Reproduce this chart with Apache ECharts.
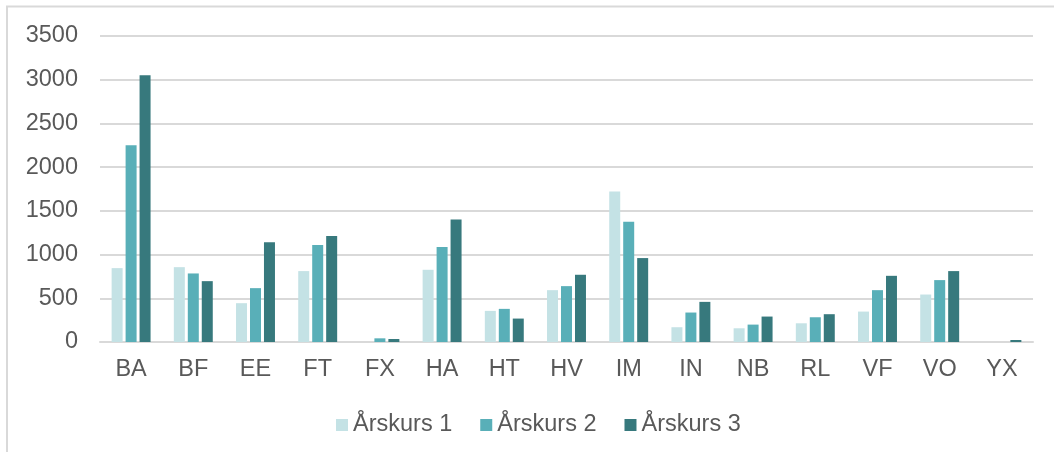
<!DOCTYPE html>
<html>
<head>
<meta charset="utf-8">
<script src="https://cdn.jsdelivr.net/npm/echarts@6/dist/echarts.min.js"></script>
<style>
html,body{margin:0;padding:0;background:#fff;}
#chart{width:1054px;height:452px;}
</style>
</head>
<body>
<div id="chart"></div>
<script>
const categories = ['BA','BF','EE','FT','FX','HA','HT','HV','IM','IN','NB','RL','VF','VO','YX'];
const arskurs1 = [845, 856, 444, 811, 0, 826, 356, 593, 1720, 169, 157, 214, 348, 543, 0];
const arskurs2 = [2250, 784, 616, 1109, 42, 1086, 379, 639, 1376, 337, 199, 283, 593, 708, 0];
const arskurs3 = [3050, 696, 1140, 1212, 34, 1400, 268, 769, 960, 459, 291, 318, 757, 811, 23];
const seriesNames = ['Årskurs 1','Årskurs 2','Årskurs 3'];
const colors = ['#c4e2e5','#59afb8','#37797d'];
const yTicks = {min:0, max:3500, interval:500};

const chart = echarts.init(document.getElementById('chart'), null, {renderer:'canvas'});
const font = 'Liberation Sans, Arial, sans-serif';
const mk = (name, data, i) => ({
  name, type:'bar', data,
  barWidth: 11, barGap: '27%',
  itemStyle:{color:colors[i]},
  emphasis:{disabled:true}
});
chart.setOption({
  animation:false,
  color: colors,
  graphic:[{type:'rect', shape:{x:7, y:6.5, width:1200, height:600}, style:{fill:'none', stroke:'#d9d9d9', lineWidth:2}, silent:true}],
  grid:{left:100, right:21, top:36, bottom:110, containLabel:false},
  legend:{
    data: seriesNames, left:336, top:413, padding:0, itemWidth:12, itemHeight:12, itemGap:28,
    icon:'rect',
    textStyle:{fontSize:23.5, color:'#595959', fontFamily:font}
  },
  xAxis:{
    type:'category', data:categories,
    axisLine:{lineStyle:{color:'#d9d9d9', width:2}},
    axisTick:{show:false},
    axisLabel:{fontSize:23.5, color:'#595959', fontFamily:font, margin:16}
  },
  yAxis:{
    type:'value', min:yTicks.min, max:yTicks.max, interval:yTicks.interval,
    axisLine:{show:false}, axisTick:{show:false},
    splitLine:{lineStyle:{color:'#d9d9d9', width:2}},
    axisLabel:{fontSize:23.5, color:'#595959', fontFamily:font, margin:22, formatter: v => String(v)}
  },
  series:[mk(seriesNames[0], arskurs1, 0), mk(seriesNames[1], arskurs2, 1), mk(seriesNames[2], arskurs3, 2)]
});
</script>
</body>
</html>
